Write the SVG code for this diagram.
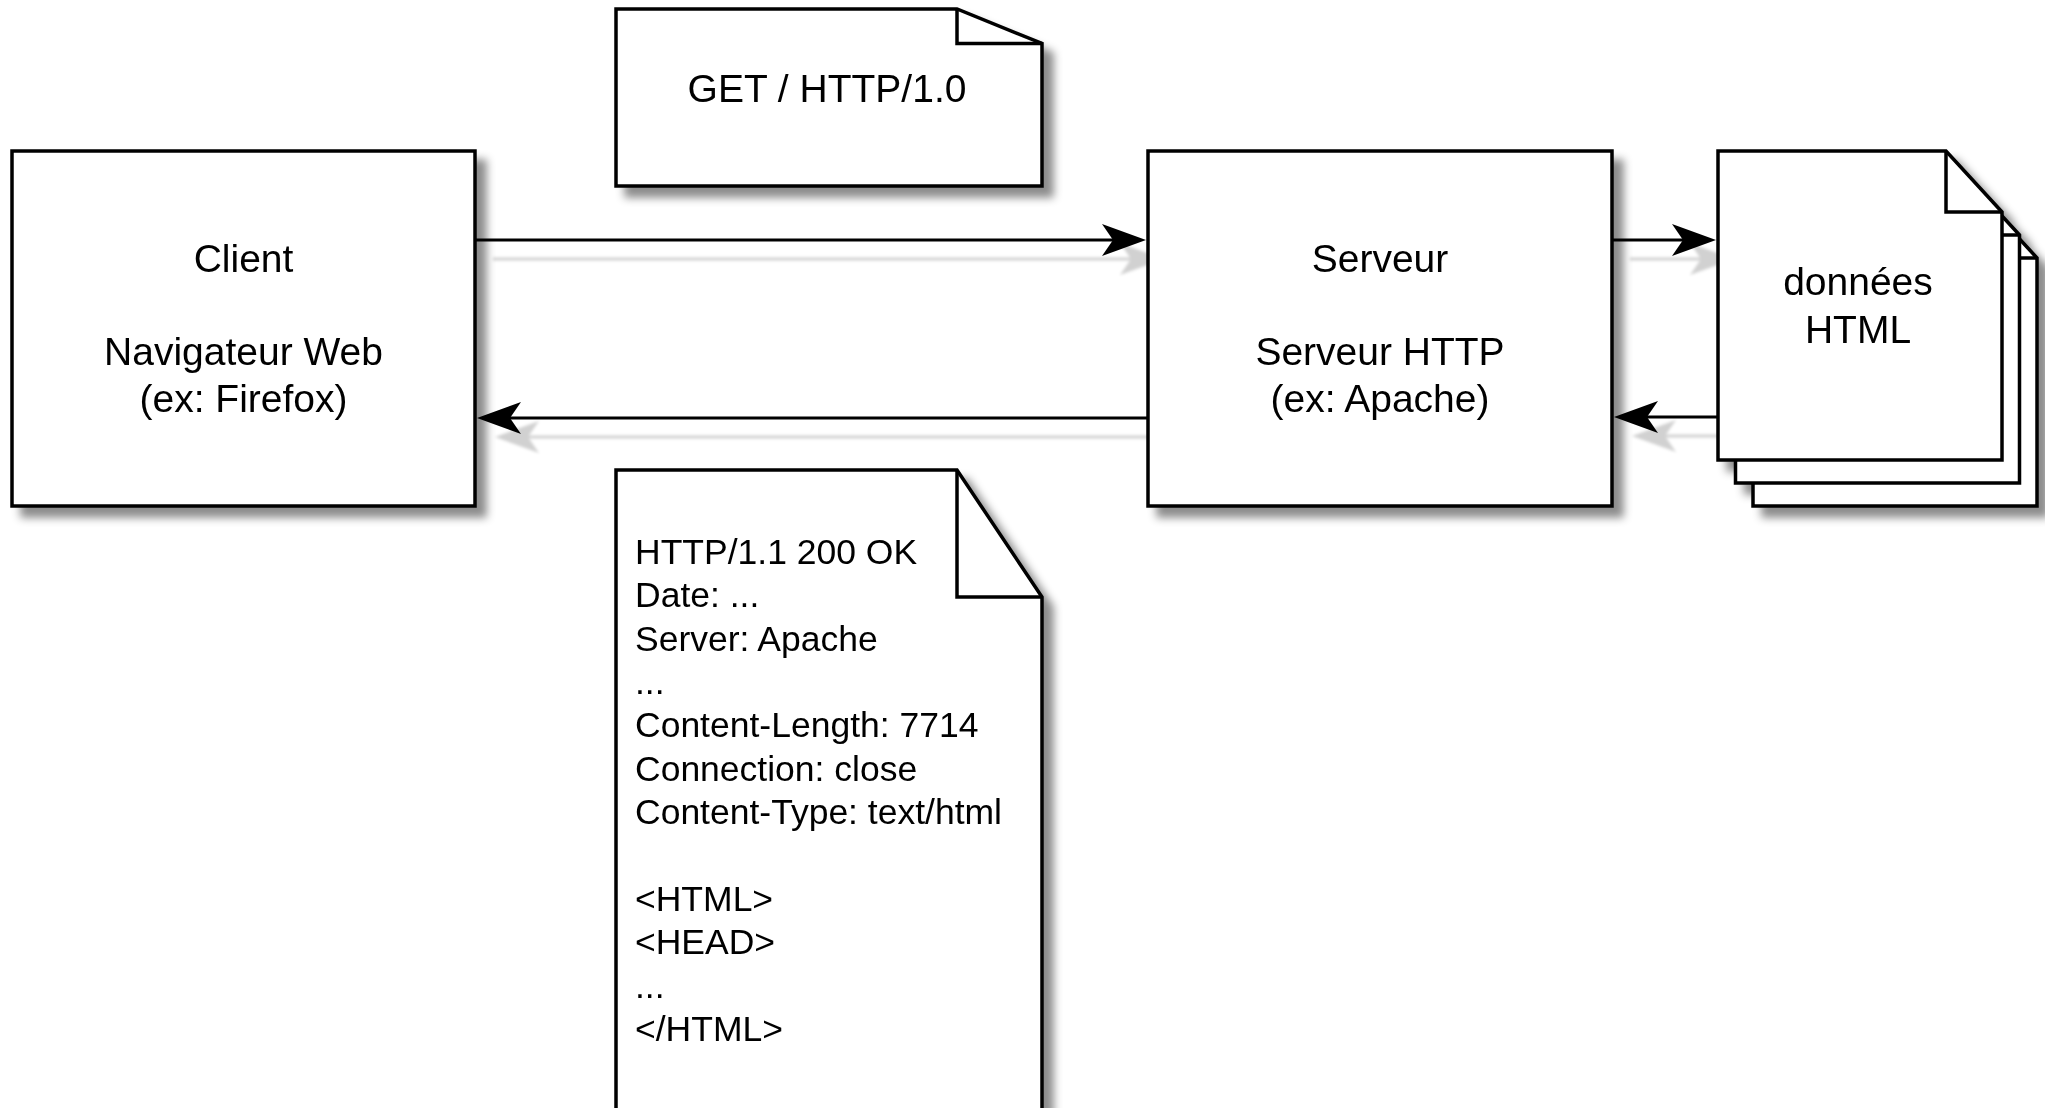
<svg xmlns="http://www.w3.org/2000/svg" width="2045" height="1108" viewBox="0 0 2045 1108">
<defs>
<style>
.box{fill:#fff;stroke:#000;stroke-width:3.5;stroke-linejoin:miter}
.fold{fill:none;stroke:#000;stroke-width:3.5}
.lbl{font-family:"Liberation Sans",Arial,Helvetica,sans-serif;font-size:39px;fill:#000;text-anchor:middle}
.resp{font-family:"Liberation Sans",Arial,Helvetica,sans-serif;font-size:35.5px;fill:#000}
.conn{fill:none;stroke:#000;stroke-width:3}
</style>
<filter id="shadow" x="-10%" y="-10%" width="130%" height="130%">
<feGaussianBlur in="SourceAlpha" stdDeviation="4"/>
<feOffset dx="10" dy="10" result="b"/>
<feFlood flood-color="#000" flood-opacity="0.45"/>
<feComposite in2="b" operator="in" result="s"/>
<feMerge><feMergeNode in="s"/><feMergeNode in="SourceGraphic"/></feMerge>
</filter>
<filter id="lshadow" filterUnits="userSpaceOnUse" x="0" y="0" width="2045" height="1108">
<feGaussianBlur in="SourceAlpha" stdDeviation="1.5"/>
<feOffset dx="18" dy="19" result="b"/>
<feFlood flood-color="#000" flood-opacity="0.18"/>
<feComposite in2="b" operator="in" result="s"/>
<feMerge><feMergeNode in="s"/><feMergeNode in="SourceGraphic"/></feMerge>
</filter>
<marker id="arr" markerUnits="userSpaceOnUse" markerWidth="60" markerHeight="40" viewBox="-50 -20 60 40" refX="-10" refY="0" orient="auto">
<path d="M0,0 L-44,-16 L-33,0 L-44,16 Z" fill="#000"/>
</marker>
</defs>
<rect width="2045" height="1108" fill="#fff"/>

<g id="connectors" filter="url(#lshadow)">
<path id="c1" class="conn" d="M475,240 L1136,240" marker-end="url(#arr)"/>
<path id="c2" class="conn" d="M1148,418 L487,418" marker-end="url(#arr)"/>
<path id="c3" class="conn" d="M1612,240 L1706,240" marker-end="url(#arr)"/>
<path id="c4" class="conn" d="M1718,417 L1624,417" marker-end="url(#arr)"/>
</g>

<g id="client" filter="url(#shadow)">
<rect class="box" x="12" y="151" width="463" height="355"/>
<text class="lbl" x="243.5" y="272">Client</text>
<text class="lbl" x="243.5" y="365">Navigateur Web</text>
<text class="lbl" x="243.5" y="412">(ex: Firefox)</text>
</g>

<g id="server" filter="url(#shadow)">
<rect class="box" x="1148" y="151" width="464" height="355"/>
<text class="lbl" x="1380" y="272">Serveur</text>
<text class="lbl" x="1380" y="365">Serveur HTTP</text>
<text class="lbl" x="1380" y="412">(ex: Apache)</text>
</g>

<g id="request" filter="url(#shadow)">
<path class="box" d="M616,9 L957,9 L1042,43.5 L1042,186 L616,186 Z"/>
<path class="fold" d="M957,9 L957,43.5 L1042,43.5"/>
<text class="lbl" x="827" y="102">GET / HTTP/1.0</text>
</g>

<g id="response" filter="url(#shadow)">
<path class="box" d="M616,470 L957,470 L1042,597 L1042,1125 L616,1125 Z"/>
<path class="fold" d="M957,470 L957,597 L1042,597"/>
<text class="resp" x="635" y="564">HTTP/1.1 200 OK</text>
<text class="resp" x="635" y="607.4">Date: ...</text>
<text class="resp" x="635" y="650.7">Server: Apache</text>
<text class="resp" x="635" y="694">...</text>
<text class="resp" x="635" y="737.4">Content-Length: 7714</text>
<text class="resp" x="635" y="780.8">Connection: close</text>
<text class="resp" x="635" y="824.1">Content-Type: text/html</text>
<text class="resp" x="635" y="910.8">&lt;HTML&gt;</text>
<text class="resp" x="635" y="954.2">&lt;HEAD&gt;</text>
<text class="resp" x="635" y="997.5">...</text>
<text class="resp" x="635" y="1040.9">&lt;/HTML&gt;</text>
</g>

<g id="documents" filter="url(#shadow)">
<g transform="translate(35,46)">
<path class="box" d="M1718,151 L1946,151 L2002,212 L2002,460 L1718,460 Z"/>
<path class="fold" d="M1946,151 L1946,212 L2002,212"/>
</g>
<g transform="translate(17.5,23)">
<path class="box" d="M1718,151 L1946,151 L2002,212 L2002,460 L1718,460 Z"/>
<path class="fold" d="M1946,151 L1946,212 L2002,212"/>
</g>
<path class="box" d="M1718,151 L1946,151 L2002,212 L2002,460 L1718,460 Z"/>
<path class="fold" d="M1946,151 L1946,212 L2002,212"/>
<text class="lbl" x="1858" y="295">données</text>
<text class="lbl" x="1858" y="342.5">HTML</text>
</g>
</svg>
